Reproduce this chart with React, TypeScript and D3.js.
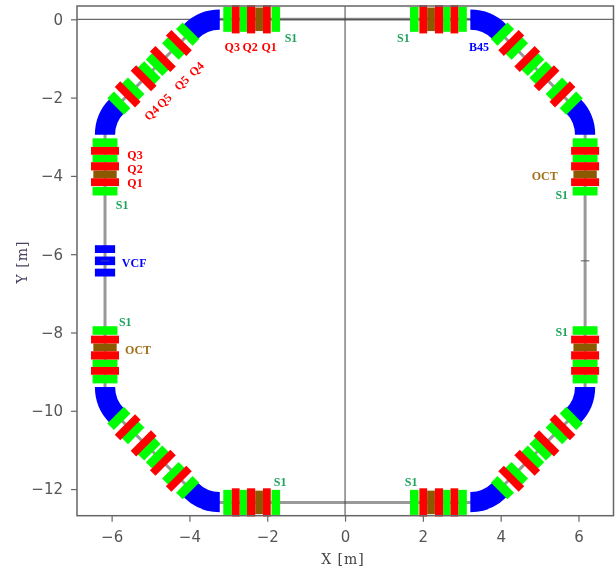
import { useEffect, useRef } from "react";
import * as d3 from "d3";

const width = 616;
const height = 571;

const xTicks = [-6, -4, -2, 0, 2, 4, 6];
const yTicks = [0, -2, -4, -6, -8, -10, -12];

const red = "#ff0000";
const green = "#00ff00";
const brown = "#8b5a00";
const blue = "#0000ff";

// magnets on a straight, [from, to, halfWidth, colour], metres from the middle of the side
const straightMagnets: [number, number, number, string][] = [
    [1.67, 1.89, 0.32, green],
    [2.11, 2.31, 0.3, brown],
    [2.52, 2.71, 0.32, green],
    [2.91, 3.13, 0.32, green],
    [1.91, 2.11, 0.36, red],
    [2.31, 2.52, 0.36, red],
    [2.71, 2.91, 0.36, red],
];

// magnets on a diagonal, same columns, metres from the middle of the diagonal
const diagonalMagnets: [number, number, number, string][] = [
    [1.13, 1.37, 0.3, green],
    [0.62, 0.86, 0.3, green],
    [0.03, 0.27, 0.3, green],
    [-0.27, -0.03, 0.3, green],
    [-0.86, -0.62, 0.3, green],
    [-1.37, -1.13, 0.3, green],
    [0.83, 1.03, 0.37, red],
    [0.25, 0.45, 0.37, red],
    [-0.45, -0.25, 0.37, red],
    [-1.03, -0.83, 0.37, red],
];

// middle of each side and its direction
const straights: [number, number, number, number][] = [
    [0, 0, -1, 0],
    [0, 0, 1, 0],
    [0, -12.34, -1, 0],
    [0, -12.34, 1, 0],
    [-6.17, -6.17, 0, 1],
    [-6.17, -6.17, 0, -1],
    [6.17, -6.17, 0, 1],
    [6.17, -6.17, 0, -1],
];

const diagonals: [number, number, number, number][] = [
    [-4.93, -1.26, 1, 1],
    [4.93, -1.26, -1, 1],
    [-4.93, -11.08, 1, -1],
    [4.93, -11.08, -1, -1],
];

// bend centre x, y, start and end angle in degrees
const bends: [number, number, number, number][] = [
    [-3.22, -1.05, -45, 0],
    [-5.12, -2.95, -90, -45],
    [3.22, -1.05, 0, 45],
    [5.12, -2.95, 45, 90],
    [-3.22, -11.29, -180, -135],
    [-5.12, -9.39, -135, -90],
    [3.22, -11.29, 135, 180],
    [5.12, -9.39, 90, 135],
];

const beamPath: [number, number][] = [
    [-3.22, 0], [3.22, 0], [3.95, -0.31], [5.86, -2.21], [6.17, -2.95],
    [6.17, -9.39], [5.86, -10.13], [3.95, -12.03], [3.22, -12.34],
    [-3.22, -12.34], [-3.95, -12.03], [-5.86, -10.13], [-6.17, -9.39],
    [-6.17, -2.95], [-5.86, -2.21], [-3.95, -0.31],
];

// the three slices of the vertical corrector
const vcfSlices = [[-0.4, -0.2], [-0.11, 0.11], [0.2, 0.4]];
const vcfCentre = -6.17;

// text, x, y, colour, rotation
const labels: [string, number, number, string, number][] = [
    ["S1", -1.39, -0.47, "#1fa35c", 0],
    ["Q3", -2.9, -0.71, red, 0],
    ["Q2", -2.44, -0.71, red, 0],
    ["Q1", -1.95, -0.71, red, 0],
    ["Q3", -5.4, -3.47, red, 0],
    ["Q2", -5.4, -3.82, red, 0],
    ["Q1", -5.4, -4.18, red, 0],
    ["S1", -5.73, -4.74, "#1fa35c", 0],
    ["VCF", -5.42, -6.23, blue, 0],
    ["Q4", -3.82, -1.27, red, -45],
    ["Q5", -4.2, -1.63, red, -45],
    ["Q5", -4.65, -2.08, red, -45],
    ["Q4", -4.97, -2.39, red, -45],
    ["S1", 1.5, -0.47, "#1fa35c", 0],
    ["B45", 3.44, -0.71, blue, 0],
    ["OCT", 5.13, -3.99, "#a0701a", 0],
    ["S1", 5.57, -4.49, "#1fa35c", 0],
    ["S1", 5.57, -7.99, "#1fa35c", 0],
    ["S1", -5.65, -7.73, "#1fa35c", 0],
    ["OCT", -5.32, -8.45, "#a0701a", 0],
    ["S1", -1.67, -11.81, "#1fa35c", 0],
    ["S1", 1.7, -11.81, "#1fa35c", 0],
];

export default function App() {
    const ref = useRef<SVGSVGElement>(null);

    useEffect(() => {
        const svg = d3.select(ref.current);
        svg.selectAll("*").remove();

        const x = d3.scaleLinear().domain([-6.89, 6.9]).range([77, 613.5]);
        const y = d3.scaleLinear().domain([0.34, -12.68]).range([6, 515.7]);
        const line = d3.line<[number, number]>().x((d) => x(d[0])).y((d) => y(d[1]));

        // Beam line
        svg.append("path")
            .attr("d", line(beamPath) + "Z")
            .attr("fill", "none")
            .attr("stroke", "#999999")
            .attr("stroke-width", 3);

        // Zero lines
        svg.append("line")
            .attr("x1", x(0)).attr("x2", x(0))
            .attr("y1", y.range()[0]).attr("y2", y.range()[1])
            .attr("stroke", "#444444");
        svg.append("line")
            .attr("x1", x.range()[0]).attr("x2", x.range()[1])
            .attr("y1", y(0)).attr("y2", y(0))
            .attr("stroke", "#444444");

        // Bends
        const arc = d3.arc();
        bends.forEach(([cx, cy, a0, a1]) => {
            svg.append("path")
                .attr("transform", `translate(${x(cx)},${y(cy)})`)
                .attr("fill", blue)
                .attr("d", arc({
                    innerRadius: x(0.79) - x(0),
                    outerRadius: x(1.31) - x(0),
                    startAngle: (a0 * Math.PI) / 180,
                    endAngle: (a1 * Math.PI) / 180,
                }));
        });

        // Magnet as a box along a section
        const drawMagnets = (
            sections: [number, number, number, number][],
            magnets: [number, number, number, string][],
            norm: number
        ) => {
            sections.forEach(([ox, oy, dx, dy]) => {
                const ux = dx * norm;
                const uy = dy * norm;
                magnets.forEach(([from, to, half, colour]) => {
                    const corner = (s: number, t: number): [number, number] => [
                        ox + ux * s - uy * t,
                        oy + uy * s + ux * t,
                    ];
                    svg.append("path")
                        .attr("fill", colour)
                        .attr("d", line([
                            corner(from, -half),
                            corner(to, -half),
                            corner(to, half),
                            corner(from, half),
                        ]) + "Z");
                });
            });
        };
        drawMagnets(straights, straightMagnets, 1);
        drawMagnets(diagonals, diagonalMagnets, Math.SQRT1_2);

        // VCF
        vcfSlices.forEach(([a, b]) => {
            svg.append("rect")
                .attr("x", x(-6.17 - 0.26))
                .attr("width", x(0.26) - x(-0.26))
                .attr("y", y(vcfCentre + b))
                .attr("height", y(vcfCentre + a) - y(vcfCentre + b))
                .attr("fill", blue);
        });

        // Marks at the middle of the long sides
        [-6.17, 6.17].forEach((c) => {
            svg.append("line")
                .attr("x1", x(c - 0.11)).attr("x2", x(c + 0.11))
                .attr("y1", y(vcfCentre)).attr("y2", y(vcfCentre))
                .attr("stroke", c < 0 ? "#3a3ac0" : "#555555");
        });

        // Frame
        svg.append("rect")
            .attr("x", x.range()[0])
            .attr("y", y.range()[0])
            .attr("width", x.range()[1] - x.range()[0])
            .attr("height", y.range()[1] - y.range()[0])
            .attr("fill", "none")
            .attr("stroke", "#666666")
            .attr("stroke-width", 1.5);

        // Axes
        const xAxis = d3.axisBottom(x).tickValues(xTicks).tickSize(6).tickPadding(10).tickSizeOuter(0);
        const yAxis = d3.axisLeft(y).tickValues(yTicks).tickSize(6).tickPadding(8).tickSizeOuter(0);
        const gx = svg.append("g").attr("transform", `translate(0,${y.range()[1]})`).call(xAxis);
        const gy = svg.append("g").attr("transform", `translate(${x.range()[0]},0)`).call(yAxis);
        [gx, gy].forEach((g) => {
            g.select(".domain").remove();
            g.selectAll("line").attr("stroke", "#666666").attr("stroke-width", 1.2);
            g.selectAll("text")
                .attr("font-family", "DejaVu Sans")
                .attr("font-size", 15)
                .attr("fill", "#555555");
        });

        // Axis titles
        svg.append("text")
            .attr("x", 343)
            .attr("y", 564)
            .attr("text-anchor", "middle")
            .attr("font-family", "DejaVu Serif")
            .attr("font-size", 14)
            .attr("letter-spacing", 1)
            .attr("fill", "#444444")
            .text("X [m]");
        svg.append("text")
            .attr("transform", "translate(27,262) rotate(-90)")
            .attr("text-anchor", "middle")
            .attr("font-family", "DejaVu Serif")
            .attr("font-size", 14)
            .attr("letter-spacing", 1)
            .attr("fill", "#4a4060")
            .text("Y [m]");

        // Element labels
        labels.forEach(([text, lx, ly, colour, angle]) => {
            svg.append("text")
                .attr("transform", `translate(${x(lx)},${y(ly)}) rotate(${angle})`)
                .attr("text-anchor", "middle")
                .attr("dominant-baseline", "central")
                .attr("font-family", "Liberation Serif")
                .attr("font-weight", "bold")
                .attr("font-size", 12)
                .attr("fill", colour)
                .text(text);
        });
    }, []);

    return (
        <svg
            ref={ref}
            width={width}
            height={height}
            style={{ position: "absolute", left: 0, top: 0, background: "#ffffff", filter: "blur(0.35px)" }}
        ></svg>
    );
}
